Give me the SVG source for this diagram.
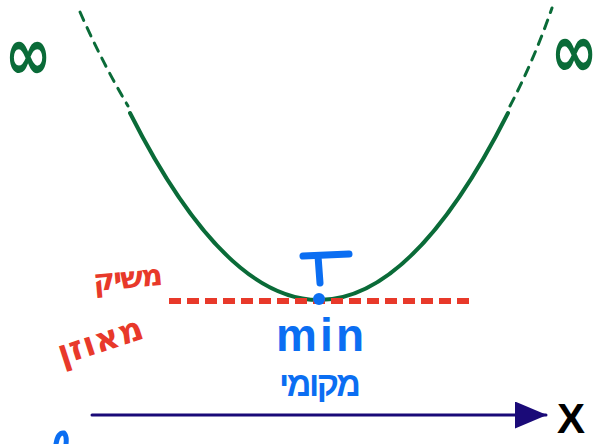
<svg xmlns="http://www.w3.org/2000/svg" width="600" height="444" viewBox="0 0 600 444">
<defs>
<style>
.g{fill:none;stroke:#0a6b38;stroke-linecap:round}
.gd{fill:none;stroke:#0a6b38;stroke-width:3;stroke-dasharray:9 8;stroke-linecap:round}
.inf{font-family:"DejaVu Sans",sans-serif;font-weight:bold;fill:#0a6b38}
.red{font-family:"DejaVu Sans","Liberation Sans",sans-serif;font-weight:bold;fill:#e8392a}
.blue{font-family:"Liberation Sans","DejaVu Sans",sans-serif;font-weight:bold;fill:#0b6ef2}
.bl{fill:none;stroke:#0b6ef2;stroke-width:7;stroke-linecap:round}
</style>
<marker id="ah" viewBox="0 0 32 27" refX="31" refY="13.5" markerWidth="32" markerHeight="27" markerUnits="userSpaceOnUse" orient="auto">
<path d="M0,0 L32,13.5 L0,27 Z" fill="#1a0a78"/>
</marker>
</defs>
<rect width="600" height="444" fill="#ffffff"/>
<g id="curve">
<path class="g" stroke-width="4" d="M130,113 Q319,487 508,113"/>
<path class="gd" d="M80,12 Q102,62 128,106"/>
<path class="gd" d="M510,106 Q534,60 552,8"/>
</g>
<g id="infinity-left"><text class="inf" x="28" y="73" font-size="56" text-anchor="middle" transform="translate(0,54) scale(1,1.35) translate(0,-54)">∞</text></g>
<g id="infinity-right"><text class="inf" x="574" y="70" font-size="56" text-anchor="middle" transform="translate(0,51) scale(1,1.35) translate(0,-51)">∞</text></g>
<g id="tangent">
<line x1="169" y1="301" x2="472" y2="301" stroke="#e8392a" stroke-width="6" stroke-dasharray="12 6"/>
<text class="red" x="128" y="288" font-size="30" text-anchor="middle" textLength="70" transform="rotate(-5 128 278)">משיק</text>
<text class="red" x="100" y="352" font-size="34" text-anchor="middle" textLength="88" transform="rotate(-18 100 340)">מאוזן</text>
</g>
<g id="minpoint">
<path class="bl" d="M303,256 L349,254 M318,256 L320,283"/>
<circle cx="319" cy="299" r="6" fill="#0b6ef2"/>
<text class="blue" x="320" y="351" font-size="46" text-anchor="middle" textLength="88">min</text>
<text class="blue" x="320" y="396" font-size="34" text-anchor="middle" textLength="82" font-family="DejaVu Sans,sans-serif">מקומי</text>
</g>
<g id="axis">
<line x1="92" y1="415" x2="546" y2="415" stroke="#1a0a78" stroke-width="3" stroke-linecap="round" marker-end="url(#ah)"/>
<text x="571" y="433" font-family="Liberation Sans,sans-serif" font-weight="bold" font-size="42" text-anchor="middle" fill="#000">X</text>
</g>
<path d="M56,444 Q58,432 64,433 Q67,436 66,444" fill="none" stroke="#0b6ef2" stroke-width="5" stroke-linecap="round"/>
</svg>
